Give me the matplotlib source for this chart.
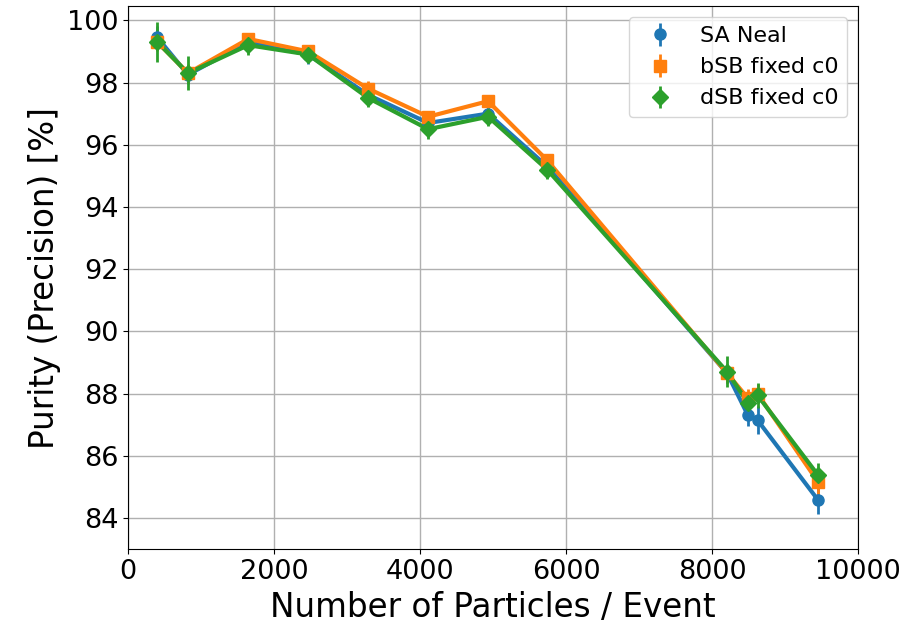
import matplotlib
matplotlib.use("Agg")
import matplotlib.pyplot as plt

# liczba cząstek na zdarzenie
particles = [400, 820, 1645, 2465, 3290, 4110, 4930, 5740, 8205, 8490, 8620, 9450]

# czystość (precision) [%]
sa_neal = [99.45, 98.25, 99.3, 98.9, 97.6, 96.7, 97.0, 95.3, 88.65, 87.3, 87.15, 84.58]
sa_neal_err = [0.35, 0.3, 0.2, 0.3, 0.2, 0.25, 0.2, 0.2, 0.3, 0.35, 0.45, 0.45]

bsb_fixed = [99.3, 98.3, 99.4, 99.0, 97.8, 96.9, 97.4, 95.5, 88.65, 87.85, 88.0, 85.16]
bsb_fixed_err = [0.3, 0.3, 0.2, 0.2, 0.25, 0.2, 0.2, 0.2, 0.3, 0.3, 0.3, 0.4]

dsb_fixed = [99.3, 98.3, 99.2, 98.9, 97.5, 96.5, 96.9, 95.2, 88.7, 87.7, 87.95, 85.38]
dsb_fixed_err = [0.65, 0.55, 0.3, 0.25, 0.3, 0.3, 0.3, 0.3, 0.5, 0.3, 0.4, 0.4]

series = [
    (sa_neal, sa_neal_err, 'o', '#1f77b4', 'SA Neal'),
    (bsb_fixed, bsb_fixed_err, 's', '#ff7f0e', 'bSB fixed c0'),
    (dsb_fixed, dsb_fixed_err, 'D', '#2ca02c', 'dSB fixed c0'),
]

fig, ax = plt.subplots(figsize=(9.15, 6.27), dpi=100)
fig.subplots_adjust(left=0.14, right=0.938, top=0.99, bottom=0.124)

for vals, errs, mk, col, lab in series:
    ax.plot(particles, vals, '-', color=col, lw=3)
    ax.errorbar(particles, vals, yerr=errs, fmt=mk, color=col,
                ms=8, elinewidth=2, label=lab)

ax.set_xlim(0, 10000)
ax.set_ylim(83.0, 100.45)
ax.set_yticks(range(84, 101, 2))
ax.set_xlabel("Number of Particles / Event", fontsize=23.5)
ax.set_ylabel("Purity (Precision) [%]", fontsize=23.5)
ax.tick_params(labelsize=19.5)
ax.grid(True, color='#b0b0b0', lw=1)
ax.legend(loc='upper right', fontsize=16)

fig.savefig("out.png", dpi=100)
